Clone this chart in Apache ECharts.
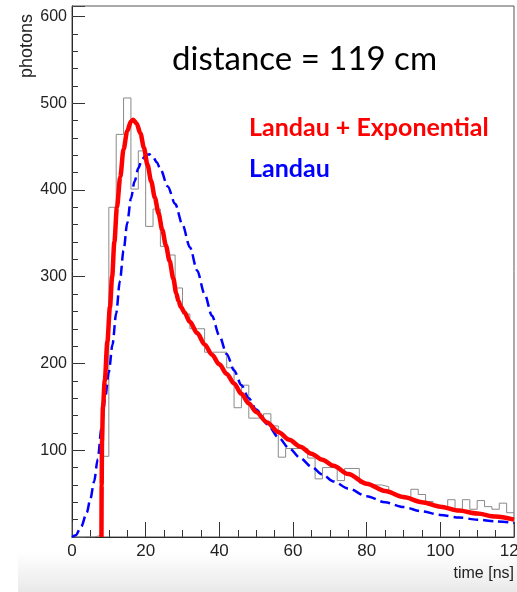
<!DOCTYPE html>
<html>
<head>
<meta charset="utf-8">
<script src="https://cdn.jsdelivr.net/npm/echarts@6/dist/echarts.min.js"></script>
<style>html,body{margin:0;padding:0;background:#fff}#c{width:517px;height:592px}</style>
</head>
<body>
<div id="c"></div>
<script>
// histogram bin edges (ns) and counts (photons)
var binEdges = [0,2,4,6,8,10,12,14,16,18,20,22,24,26,28,30,32,34,36,38,40,42,44,46,48,50,52,54,56,58,60,62,64,66,68,70,72,74,76,78,80,82,84,86,88,90,92,94,96,98,100,102,104,106,108,110,112,114,116,118,120];
var counts = [0,0,0,2,93,380,464,506,401,445,358,378,335,325,287,257,240,240,213,213,213,195,149,175,137,137,142,128,92,102,102,102,91,67,80,80,65,79,79,62,60,60,58,50,47,44,55,49,41,35,33,43,32,43,32,42,35,32,39,28];

// Landau + Exponential fit (red)
var redX = [8.0,8.05,8.15,8.4,8.9,9.6,10.3,10.9,11.5,12.2,13.1,14.0,15.0,16.0,16.6,17.5,18.6,19.5,20.5,21.5,22.5,23.5,24.5,25.5,26.5,27.5,28.3,28.9,29.6,30.5,32,34,36,38,40,42,44,46,48,50,53,56,59,62,65,68,71,75,80,85,90,95,100,105,110,115,120];
var redY = [0,60,110,150,180,225,265,300,340,380,415,447,468,479,481,477,465,449,429,410,391,373,354,336,318,298,281,272,265,259,248,235,222,210,199,188,177,165,154,144,132,121,112,104,96,89,82,72.5,61.5,53,46,40,35,30.5,27,23.5,20];

// Landau fit (blue dashed)
var blueX = [0,1,2.5,4,5,6,7,8,9,10,11,12,13,14,15,16,17,18,19,20,21,22,23,24,26,28,30,32,34,36,38,40,42,44,46,48,50,53,56,59,62,65,68,71,75,80,85,90,95,100,105,110,115,120];
var blueY = [0,2,12,28,44,64,90,125,160,190,222,258,295,330,362,390,410,425,435,440,441,438,432,424,404,384,360,334,307,280,255,232,211,192,175,160,147,130,115,102,91,81,72,64,56,47,40,34.5,29.5,25.5,22.5,20,18,16.2];

// axis ticks / labels
var yMajorTicks = [100,200,300,400,500,600];
var xMajorTicks = [0,20,40,60,80,100,120];
var titleText = 'distance = 119 cm';
var fitNames = ['Landau + Exponential', 'Landau'];
var xName = 'time [ns]';
var yName = 'photons';

function zip(a, b) { var r = []; for (var i = 0; i < a.length; i++) r.push([a[i], b[i]]); return r; }
var histData = [];
for (var i = 0; i < counts.length; i++) histData.push([binEdges[i], counts[i]]);
histData.push([binEdges[binEdges.length - 1], counts[counts.length - 1]]);

var chart = echarts.init(document.getElementById('c'), null, {renderer: 'canvas'});
chart.setOption({
  animation: false,
  backgroundColor: '#fff',
  grid: {left: 72, right: 3, top: 6, bottom: 55, containLabel: false, outerBoundsMode: 'none',
         show: true, borderColor: '#555', borderWidth: 1, backgroundColor: 'transparent', z: 1},
  title: [
    {text: titleText, left: 172, top: 43, textStyle: {fontFamily: 'Lato', fontWeight: 'normal', fontSize: 33, color: '#000'}, padding: 0},
    {text: fitNames[0], left: 249, top: 115, textStyle: {fontFamily: 'Lato', fontWeight: 'bold', fontSize: 25, color: '#ff0000'}, padding: 0},
    {text: fitNames[1], left: 249, top: 156, textStyle: {fontFamily: 'Lato', fontWeight: 'bold', fontSize: 25, color: '#0000ff'}, padding: 0}
  ],
  graphic: [
    {type: 'rect', left: 18, top: 552, z: -100, silent: true, shape: {width: 499, height: 40},
     style: {fill: new echarts.graphic.LinearGradient(0, 0, 0, 1, [{offset: 0, color: '#ffffff'}, {offset: 1, color: '#e9e9e9'}])}},
    {type: 'text', x: 27, y: 46, rotation: Math.PI / 2, z: 10,
     style: {text: yName, fontFamily: 'Liberation Sans', fontSize: 18, fill: '#222', align: 'center', verticalAlign: 'middle'}},
    {type: 'text', x: 514, y: 574, z: 10,
     style: {text: xName, fontFamily: 'Liberation Sans', fontSize: 16, fill: '#222', align: 'right', verticalAlign: 'middle'}}
  ],
  xAxis: {
    type: 'value', min: 0, max: 120, interval: 20,
    axisLine: {show: true, onZero: false, lineStyle: {color: '#000', width: 1}},
    axisTick: {show: true, inside: true, length: 15, lineStyle: {color: '#333'}},
    minorTick: {show: true, splitNumber: 4, length: 7, lineStyle: {color: '#333'}},
    splitLine: {show: false},
    axisLabel: {show: true, margin: 6, fontFamily: 'Liberation Sans', fontSize: 17, color: '#222',
      formatter: function (v) { return xMajorTicks.indexOf(v) >= 0 ? String(v) : ''; }}
  },
  yAxis: [
    {
      type: 'value', min: 0, max: 612, interval: 20, position: 'left',
      axisLine: {show: true, onZero: false, lineStyle: {color: '#000', width: 1}},
      axisTick: {show: true, inside: true, length: 6, lineStyle: {color: '#333'}},
      splitLine: {show: false},
      axisLabel: {show: true, margin: 5, fontFamily: 'Liberation Sans', fontSize: 16, color: '#222',
        formatter: function (v) { return yMajorTicks.indexOf(v) >= 0 ? String(v) : ''; }}
    },
    {
      type: 'value', min: 0, max: 612, interval: 100, position: 'left', offset: 0,
      axisLine: {show: false},
      axisTick: {show: true, inside: true, length: 13, lineStyle: {color: '#333'}},
      splitLine: {show: false},
      axisLabel: {show: false}
    }
  ],
  series: [
    {type: 'line', name: 'data', step: 'end', data: histData, symbol: 'none', z: 2,
     lineStyle: {color: '#8a8a8a', width: 1}},
    {type: 'line', name: fitNames[1], data: zip(blueX, blueY), symbol: 'none', smooth: 0.3, smoothMonotone: 'x', z: 3,
     lineStyle: {color: '#0000ff', width: 2.5, type: [10, 5]}},
    {type: 'line', name: fitNames[0], data: zip(redX, redY), symbol: 'none', smooth: 0.3, smoothMonotone: 'x', z: 4,
     lineStyle: {color: '#ff0000', width: 4.5}}
  ]
});
</script>
</body>
</html>
